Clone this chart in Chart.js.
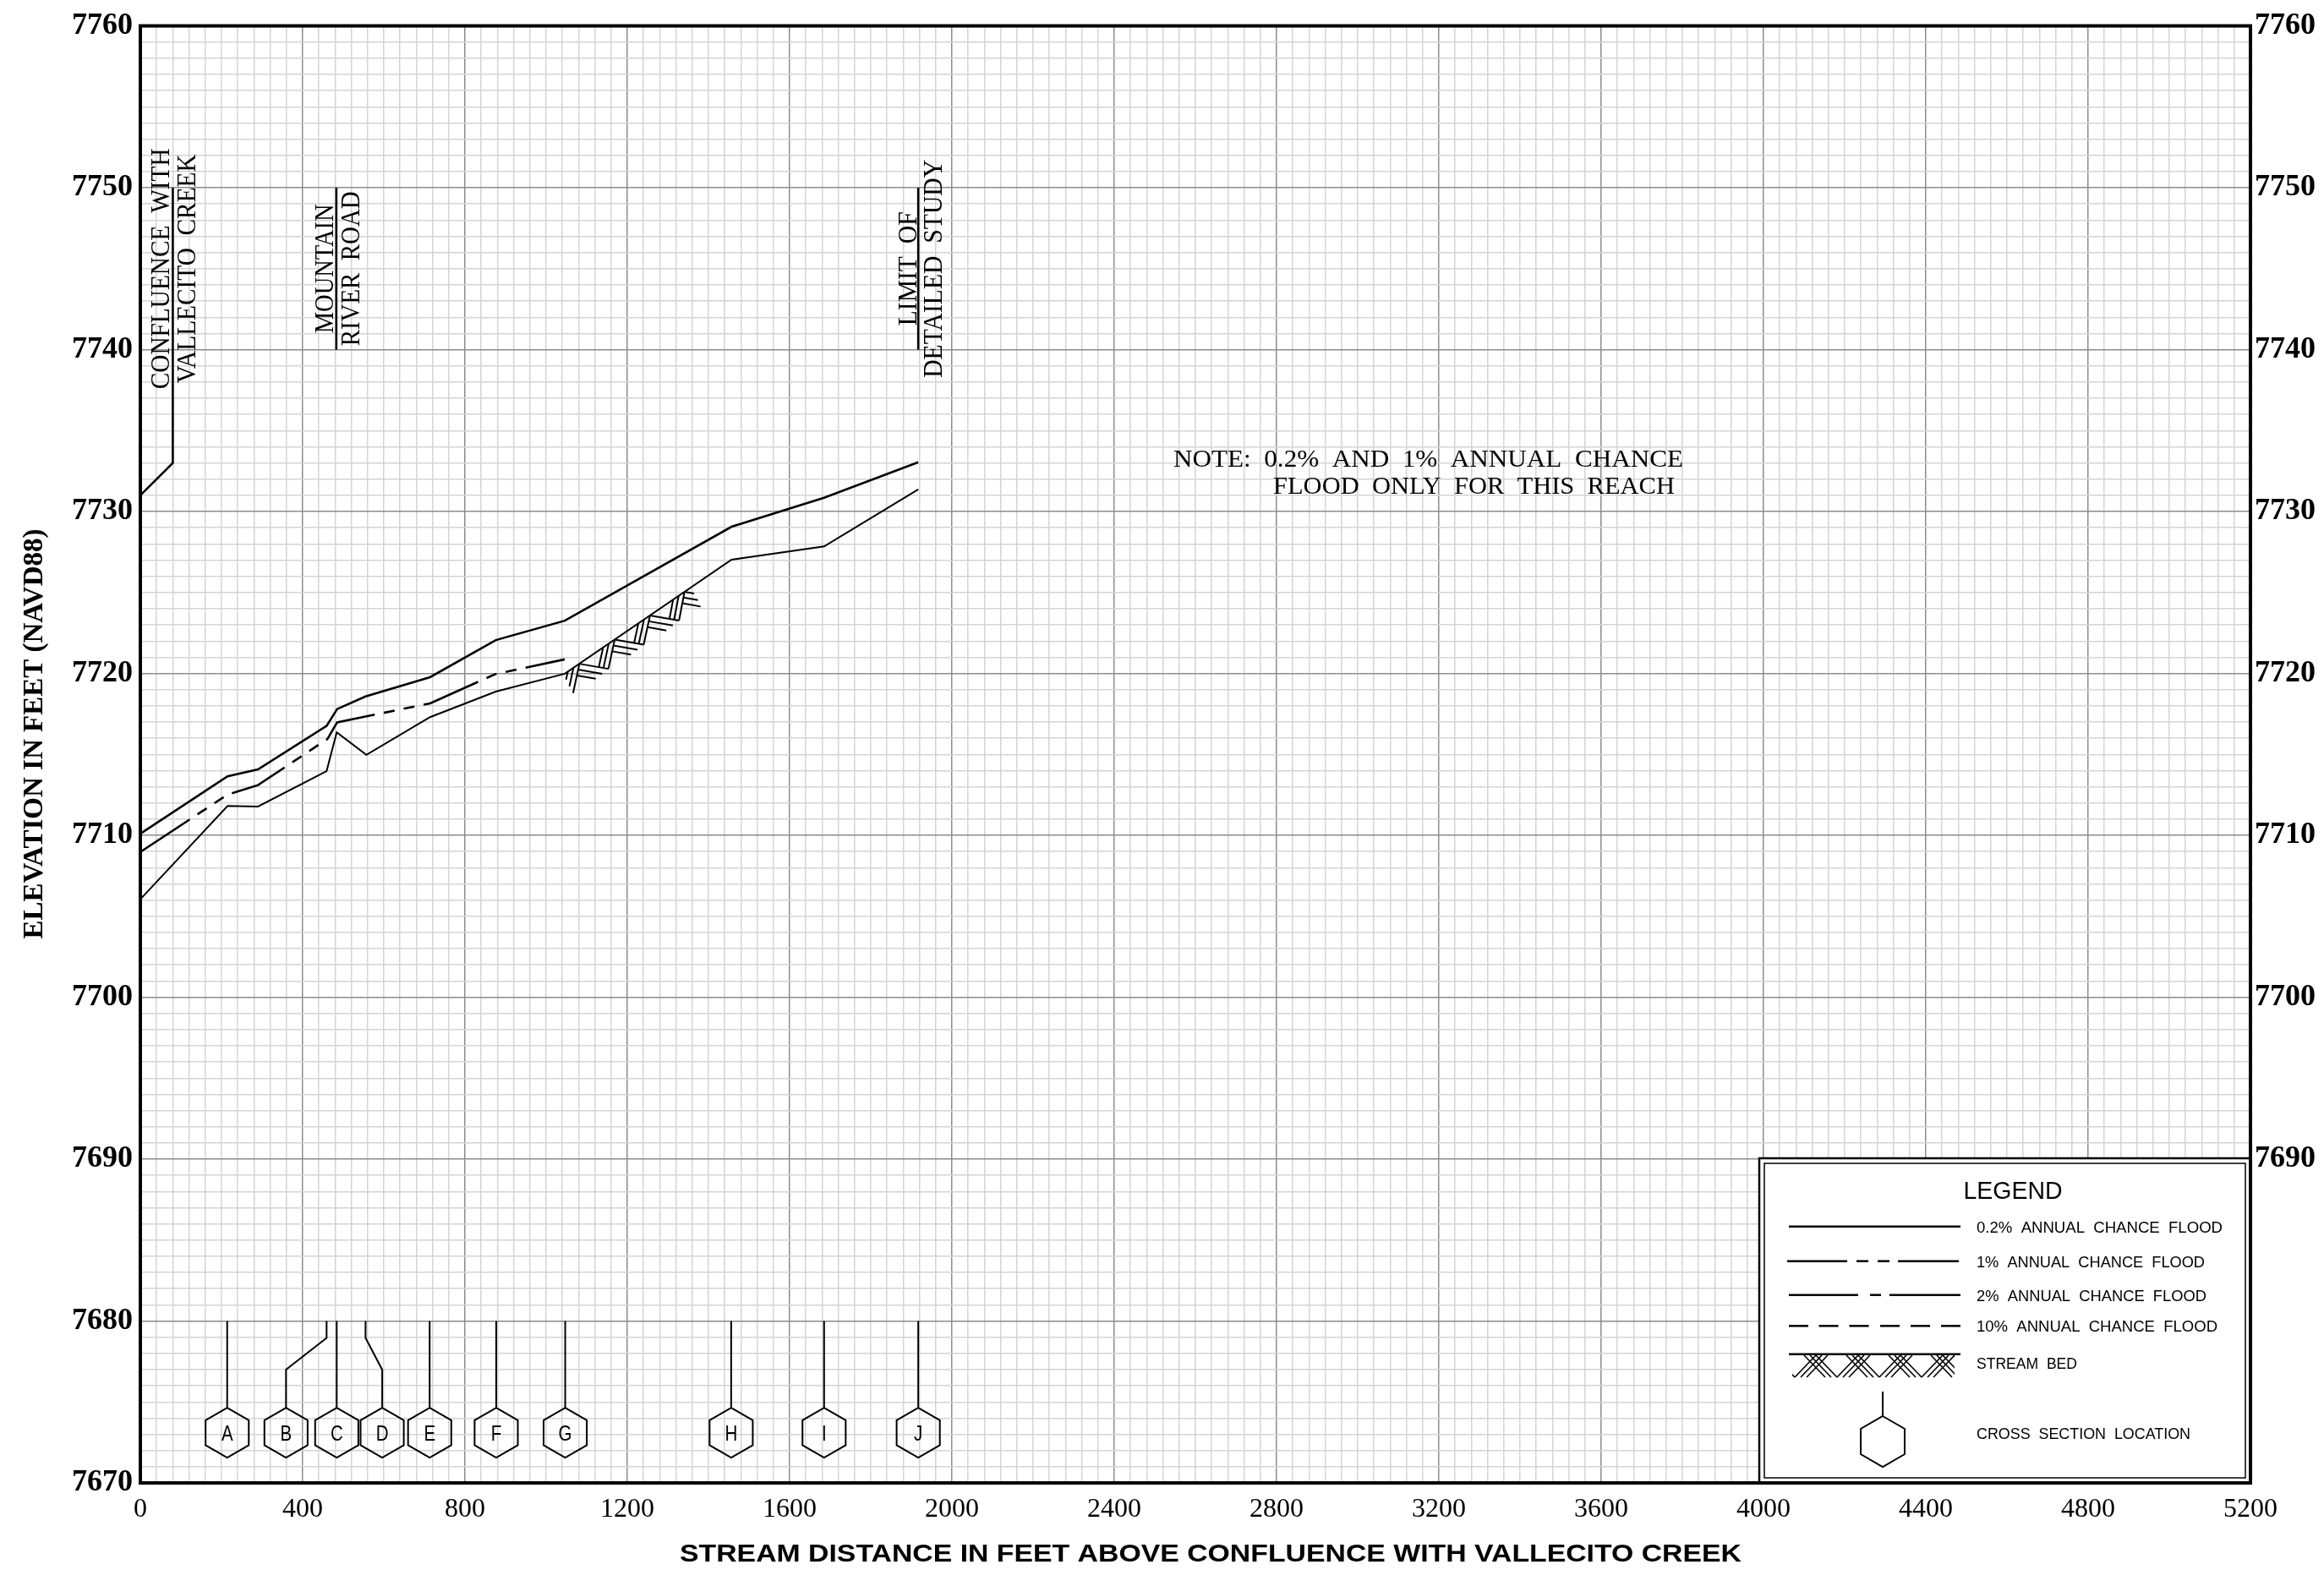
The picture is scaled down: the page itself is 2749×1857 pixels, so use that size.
<!DOCTYPE html>
<html>
<head>
<meta charset="utf-8">
<title>Flood Profile</title>
<script src="https://cdn.jsdelivr.net/npm/chart.js@4.4.1/dist/chart.umd.min.js"></script>
<style>
  html, body { margin: 0; padding: 0; background: #ffffff; }
  canvas { display: block; }
</style>
</head>
<body>
<canvas id="profile" width="2749" height="1857"></canvas>
<script>
// ---------------- DATA ----------------
// 0.2% annual chance flood water surface
const stationFt02 = [0, 215, 290, 459, 485, 555, 714, 876, 1046, 1457, 1685, 1917];
const elev02      = [7710.1, 7713.65, 7714.07, 7716.76, 7717.8, 7718.58, 7719.77, 7722.06, 7723.26, 7729.06, 7730.85, 7733.05];

// 1% annual chance flood water surface
const stationFt1 = [0, 215, 290, 461, 485, 714, 876, 1046];
const elev1      = [7708.97, 7712.52, 7713.1, 7715.95, 7716.98, 7718.15, 7719.97, 7720.87];

// stream bed
const stationFtBed = [0, 215, 290, 459, 484, 557, 714, 876, 1046, 1457, 1685, 1917];
const elevBed      = [7706.05, 7711.82, 7711.78, 7713.97, 7716.36, 7714.97, 7717.3, 7718.88, 7719.98, 7727.03, 7727.85, 7731.37];

// stream bed hatch symbol stations
const bedHatchFt = [1082, 1169, 1256, 1341];

// cross sections
const xsLetters   = ['A', 'B', 'C', 'D', 'E', 'F', 'G', 'H', 'I', 'J'];
const xsStationFt = [214, 459, 484, 555, 713, 877, 1047, 1456, 1685, 1917];
const xsSymbolFt  = [214, 359, 484, 596, 713, 877, 1047, 1456, 1685, 1917];
const xsLeaderTop = 7680;
const xsBendTop   = 7678.96;
const xsBendBot   = 7677.0;
const xsSymbolElev = 7673.1;

// vertical reference annotations
const confluenceFt   = [0, 80, 80];
const confluenceElev = [7731, 7733, 7750];
const roadFt   = [483, 483];
const roadElev = [7740, 7750];
const limitFt   = [1917, 1917];
const limitElev = [7740, 7750];
const labelCenterElev = 7745;

// axis ticks
const xMajorTicks = [0, 400, 800, 1200, 1600, 2000, 2400, 2800, 3200, 3600, 4000, 4400, 4800, 5200];
const yMajorTicks = [7670, 7680, 7690, 7700, 7710, 7720, 7730, 7740, 7750, 7760];
const yRightTicks = [7690, 7700, 7710, 7720, 7730, 7740, 7750, 7760];

const xTitle = 'STREAM DISTANCE IN FEET ABOVE CONFLUENCE WITH VALLECITO CREEK';
const yTitle = 'ELEVATION IN FEET (NAVD88)';

// ---------------- HELPERS ----------------
const SERIF = '"Liberation Serif", "DejaVu Serif", serif';
const SANS = '"Liberation Sans", "DejaVu Sans", sans-serif';

function toPoints(xs, ys) { return xs.map((v, i) => ({ x: v, y: ys[i] })); }

function fitText(ctx, text, x, y, width, font, align, rot) {
  ctx.save();
  ctx.font = font;
  ctx.translate(x, y);
  if (rot) ctx.rotate(rot);
  const w = ctx.measureText(text).width;
  ctx.scale(width / w, 1);
  ctx.textAlign = align || 'left';
  ctx.textBaseline = 'alphabetic';
  ctx.fillText(text, 0, 0);
  ctx.restore();
}

function seg(ctx, a, b) {
  ctx.beginPath(); ctx.moveTo(a.x, a.y); ctx.lineTo(b.x, b.y); ctx.stroke();
}

function cross(a, b) { return a.x * b.y - a.y * b.x; }

function bedElevAt(ft) {
  for (let i = 0; i < stationFtBed.length - 1; i++) {
    const a = stationFtBed[i], b = stationFtBed[i + 1];
    if (ft >= a && ft <= b) {
      const t = (ft - a) / (b - a);
      return elevBed[i] + t * (elevBed[i + 1] - elevBed[i]);
    }
  }
  return elevBed[elevBed.length - 1];
}

function hexagon(ctx, cx, cy, r) {
  ctx.beginPath();
  for (let i = 0; i < 6; i++) {
    const a = -Math.PI / 2 + i * Math.PI / 3;
    const px = cx + r * Math.cos(a), py = cy + r * Math.sin(a);
    if (i === 0) ctx.moveTo(px, py); else ctx.lineTo(px, py);
  }
  ctx.closePath();
  ctx.stroke();
}

const isMajorX = v => xMajorTicks.includes(Math.round(v));
const isMajorY = v => yMajorTicks.includes(Math.round(v));

// ---------------- ANNOTATION PLUGIN ----------------
const profileAnnotations = {
  id: 'profileAnnotations',
  afterDatasetsDraw(chart) {
    const ctx = chart.ctx;
    const xs = chart.scales.x, ys = chart.scales.y;
    const X = v => xs.getPixelForValue(v);
    const Y = v => ys.getPixelForValue(v);
    ctx.save();
    ctx.strokeStyle = '#000';
    ctx.fillStyle = '#000';
    ctx.lineCap = 'butt';
    ctx.lineJoin = 'miter';

    // ---- stream bed hatch ----
    ctx.lineWidth = 2;
    const P = bedHatchFt.map(f => ({ x: X(f), y: Y(bedElevAt(f)) }));
    const h = { x: 34.3, y: 6 };
    const step = { x: P[1].x - P[0].x, y: P[1].y - P[0].y };
    const Pm1 = { x: P[0].x - step.x, y: P[0].y - step.y };
    const Q = k => k < 0 ? { x: Pm1.x + h.x, y: Pm1.y + h.y } : { x: P[k].x + h.x, y: P[k].y + h.y };
    const last = P.length - 1;
    for (let k = 0; k <= last; k++) {
      const q0 = Q(k - 1);
      const v = { x: P[k].x - q0.x, y: P[k].y - q0.y };
      seg(ctx, q0, P[k]);
      const pp = k === 0 ? Pm1 : P[k - 1];
      const d = { x: P[k].x - pp.x, y: P[k].y - pp.y };
      [0.17, 0.33].forEach((s, j) => {
        let b = { x: q0.x - s * h.x, y: q0.y - s * h.y };
        if (k === 0) { const f = [0.2, 0.4][j]; b = { x: b.x + f * v.x, y: b.y + f * v.y }; }
        const t = cross({ x: pp.x - b.x, y: pp.y - b.y }, d) / cross(v, d);
        seg(ctx, b, { x: b.x + t * v.x, y: b.y + t * v.y });
      });
      const lens = k === last ? [0.33, 0.5, 0.63] : [1, 0.83, 0.65];
      [0, 0.2, 0.4].forEach((t, j) => {
        const s0 = { x: P[k].x - t * v.x, y: P[k].y - t * v.y };
        seg(ctx, s0, { x: s0.x + lens[j] * h.x, y: s0.y + lens[j] * h.y });
      });
    }

    // ---- vertical reference lines ----
    ctx.lineWidth = 2.6;
    const poly = (fx, fy) => {
      ctx.beginPath();
      fx.forEach((f, i) => { const px = X(f), py = Y(fy[i]); if (i === 0) ctx.moveTo(px, py); else ctx.lineTo(px, py); });
      ctx.stroke();
    };
    poly(confluenceFt, confluenceElev);
    poly(roadFt, roadElev);
    poly(limitFt, limitElev);

    const cy = Y(labelCenterElev);
    const rot = -Math.PI / 2;
    const f32 = '32px ' + SERIF;
    const cX = X(confluenceFt[2]);
    fitText(ctx, 'CONFLUENCE  WITH', cX - 4, cy, 285, f32, 'center', rot);
    fitText(ctx, 'VALLECITO  CREEK', cX + 27, cy, 271, f32, 'center', rot);
    const rX = X(roadFt[0]);
    fitText(ctx, 'MOUNTAIN', rX - 4, cy, 153, f32, 'center', rot);
    fitText(ctx, 'RIVER  ROAD', rX + 27, cy, 183, f32, 'center', rot);
    const lX = X(limitFt[0]);
    fitText(ctx, 'LIMIT  OF', lX - 2, cy, 135, f32, 'center', rot);
    fitText(ctx, 'DETAILED  STUDY', lX + 28, cy, 258, f32, 'center', rot);

    // ---- note ----
    fitText(ctx, 'NOTE:  0.2%  AND  1%  ANNUAL  CHANCE', 1388, 552, 603, '30px ' + SERIF, 'left');
    fitText(ctx, 'FLOOD  ONLY  FOR  THIS  REACH', 1506, 583.5, 475, '30px ' + SERIF, 'left');

    // ---- cross section symbols ----
    ctx.lineWidth = 2;
    const r = 29.5;
    const hexCy = Y(xsSymbolElev);
    xsLetters.forEach((L, i) => {
      const sx = X(xsStationFt[i]), mx = X(xsSymbolFt[i]);
      ctx.beginPath();
      ctx.moveTo(sx, Y(xsLeaderTop));
      if (Math.abs(sx - mx) > 0.5) {
        ctx.lineTo(sx, Y(xsBendTop));
        ctx.lineTo(mx, Y(xsBendBot));
      }
      ctx.lineTo(mx, hexCy - r);
      ctx.stroke();
      hexagon(ctx, mx, hexCy, r);
      ctx.save();
      ctx.font = '25px ' + SANS;
      ctx.translate(mx, hexCy + 9);
      ctx.scale(0.82, 1);
      ctx.textAlign = 'center';
      ctx.textBaseline = 'alphabetic';
      ctx.fillText(L, 0, 0);
      ctx.restore();
    });

    // ---- legend box ----
    const bx0 = 2081, by0 = 1370, bx1 = 2662, by1 = 1754;
    ctx.fillStyle = '#fff';
    ctx.fillRect(bx0, by0, bx1 - bx0, by1 - by0);
    ctx.fillStyle = '#000';
    ctx.lineWidth = 2.5;
    ctx.strokeRect(bx0, by0, bx1 - bx0, by1 - by0);
    ctx.lineWidth = 1.5;
    ctx.strokeRect(2087, 1376, 2656 - 2087, 1748 - 1376);

    fitText(ctx, 'LEGEND', 2381, 1418, 117, '30px ' + SANS, 'center');
    const lf = '19px ' + SANS;
    fitText(ctx, '0.2%  ANNUAL  CHANCE  FLOOD', 2338, 1457.5, 291, lf, 'left');
    fitText(ctx, '1%  ANNUAL  CHANCE  FLOOD', 2338, 1498.5, 270, lf, 'left');
    fitText(ctx, '2%  ANNUAL  CHANCE  FLOOD', 2338, 1538.5, 272, lf, 'left');
    fitText(ctx, '10%  ANNUAL  CHANCE  FLOOD', 2338, 1575, 285, lf, 'left');
    fitText(ctx, 'STREAM  BED', 2338, 1619, 119, lf, 'left');
    fitText(ctx, 'CROSS  SECTION  LOCATION', 2338, 1702, 253, lf, 'left');

    const hl = (x0, x1, y) => seg(ctx, { x: x0, y: y }, { x: x1, y: y });
    ctx.lineWidth = 2.5;
    hl(2116, 2319, 1450.7);
    hl(2114, 2185, 1491.7); hl(2196, 2210, 1491.7); hl(2221, 2235, 1491.7); hl(2245, 2317, 1491.7);
    hl(2116, 2198, 1531.7); hl(2212, 2225, 1531.7); hl(2235, 2319, 1531.7);
    [2116, 2151.5, 2187.5, 2224, 2260, 2296].forEach(x0 => hl(x0, x0 + 23, 1568.3));
    hl(2116, 2319, 1601.7);
    // stream bed symbol hatch
    ctx.save();
    ctx.beginPath();
    ctx.rect(2120, 1603, 2312 - 2120, 1630 - 1603);
    ctx.clip();
    ctx.lineWidth = 1.6;
    [2123, 2173, 2223, 2273, 2323].forEach(b => {
      [0, 7, 14].forEach(d => {
        seg(ctx, { x: b - 25 - d, y: 1603 }, { x: b - d, y: 1629 });
        seg(ctx, { x: b + d, y: 1629 }, { x: b + 25 + d, y: 1603 });
      });
    });
    ctx.restore();
    // cross section symbol
    ctx.lineWidth = 2;
    seg(ctx, { x: 2227, y: 1646 }, { x: 2227, y: 1675 });
    hexagon(ctx, 2227, 1705, 30);

    ctx.restore();
  },
  afterDraw(chart) {
    const ctx = chart.ctx, a = chart.chartArea;
    ctx.save();
    ctx.strokeStyle = '#000';
    ctx.lineWidth = 4;
    ctx.strokeRect(a.left, a.top, a.right - a.left, a.bottom - a.top);
    ctx.fillStyle = '#000';
    fitText(ctx, yTitle, 50, 868, 485, 'bold 34px ' + SERIF, 'center', -Math.PI / 2);
    fitText(ctx, xTitle, 1432, 1847, 1256, 'bold 30px ' + SANS, 'center');
    ctx.restore();
  }
};

// ---------------- CHART ----------------
const gridColorX = c => (c.tick && isMajorX(c.tick.value)) ? '#8c8c8c' : '#d4d4d4';
const gridColorY = c => (c.tick && isMajorY(c.tick.value)) ? '#8c8c8c' : '#d4d4d4';

new Chart(document.getElementById('profile').getContext('2d'), {
  type: 'line',
  data: {
    datasets: [
      {
        label: '0.2% ANNUAL CHANCE FLOOD',
        data: toPoints(stationFt02, elev02),
        borderColor: '#000', borderWidth: 2.6, pointRadius: 0, tension: 0, fill: false
      },
      {
        label: '1% ANNUAL CHANCE FLOOD',
        data: toPoints(stationFt1, elev1),
        borderColor: '#000', borderWidth: 2.6, pointRadius: 0, tension: 0, fill: false,
        borderDash: [70, 11, 13, 11, 13, 11]
      },
      {
        label: 'STREAM BED',
        data: toPoints(stationFtBed, elevBed),
        borderColor: '#000', borderWidth: 2, pointRadius: 0, tension: 0, fill: false
      }
    ]
  },
  options: {
    responsive: false,
    animation: false,
    devicePixelRatio: 1,
    layout: { padding: { top: 25, left: 0, right: 0, bottom: 0 } },
    plugins: { legend: { display: false }, tooltip: { enabled: false }, title: { display: false } },
    scales: {
      x: {
        type: 'linear', position: 'bottom', min: 0, max: 5200,
        afterFit(s) { s.height = 103; },
        ticks: {
          stepSize: 40, autoSkip: false, maxRotation: 0, minRotation: 0, maxTicksLimit: 1000,
          padding: 12, color: '#000',
          font: { family: SERIF, size: 32 },
          callback: v => isMajorX(v) ? String(Math.round(v)) : ''
        },
        grid: { drawTicks: false, color: gridColorX, lineWidth: 1.5 },
        border: { display: true, color: '#000', width: 4 }
      },
      y: {
        type: 'linear', position: 'left', min: 7670, max: 7760,
        afterFit(s) { s.width = 166; },
        ticks: {
          stepSize: 1, autoSkip: false, maxTicksLimit: 1000, padding: 9, color: '#000',
          font: { family: SERIF, size: 36, weight: 'bold' },
          callback: v => isMajorY(v) ? String(Math.round(v)) : ''
        },
        grid: { drawTicks: false, color: gridColorY, lineWidth: 1.5 },
        border: { display: true, color: '#000', width: 4 }
      },
      y2: {
        type: 'linear', position: 'right', min: 7670, max: 7760,
        afterFit(s) { s.width = 87; },
        ticks: {
          stepSize: 10, autoSkip: false, maxTicksLimit: 1000, padding: 5, color: '#000',
          font: { family: SERIF, size: 36, weight: 'bold' },
          callback: v => yRightTicks.includes(Math.round(v)) ? String(Math.round(v)) : ''
        },
        grid: { display: false, drawTicks: false },
        border: { display: true, color: '#000', width: 4 }
      }
    }
  },
  plugins: [profileAnnotations]
});
</script>
</body>
</html>
